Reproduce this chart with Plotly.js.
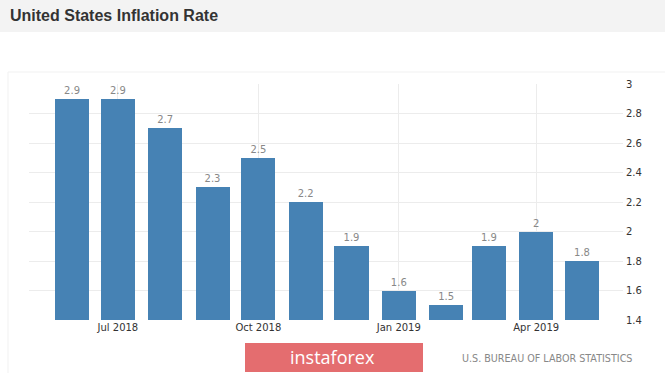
<!DOCTYPE html>
<html>
<head>
<meta charset="utf-8">
<script src="https://cdn.plot.ly/plotly-3.0.1.min.js"></script>
<style>html,body{margin:0;padding:0;background:#fff;}#chart{width:665px;height:373px;}</style>
</head>
<body>
<div id="chart"></div>
<script>
const months = ['2018-06-01','2018-07-01','2018-08-01','2018-09-01','2018-10-01','2018-11-01','2018-12-01','2019-01-01','2019-02-01','2019-03-01','2019-04-01','2019-05-01'];
const inflation = [2.9, 2.9, 2.7, 2.3, 2.5, 2.2, 1.9, 1.6, 1.5, 1.9, 2.0, 1.8];
const tickDates = ['2018-07-01','2018-10-01','2019-01-01','2019-04-01'];
const tickLabels = ['Jul 2018','Oct 2018','Jan 2019','Apr 2019'];
const yTicks = [1.4, 1.6, 1.8, 2, 2.2, 2.4, 2.6, 2.8, 3];

const W = 665, H = 373, L = 29, R = 623, T = 84, B = 320;
const px = x => (x - L) / (R - L);
const py = y => (B - y) / (B - T);
const DAY = 86400000;

const trace = {
  type: 'bar',
  x: months,
  y: inflation,
  width: months.map(() => 22.3 * DAY),
  marker: {color: '#4682B4'},
  text: inflation.map(v => String(v)),
  textposition: 'outside',
  textfont: {family: 'DejaVu Sans', size: 10, color: '#888'},
  cliponaxis: false,
  hoverinfo: 'x+y'
};

const layout = {
  width: W, height: H,
  margin: {l: L, r: W - R, t: T, b: H - B, pad: 0},
  paper_bgcolor: '#fff',
  plot_bgcolor: '#fff',
  showlegend: false,
  bargap: 0,
  title: {
    text: 'United States Inflation Rate',
    xref: 'container', yref: 'container',
    x: 10 / W, xanchor: 'left',
    y: 1 - 15 / H, yanchor: 'middle',
    font: {family: 'Liberation Sans', size: 16, color: '#333', weight: 'bold'}
  },
  xaxis: {
    type: 'date',
    range: ['2018-05-03 19:00', '2019-05-27 20:00'],
    tickvals: tickDates,
    ticktext: tickLabels,
    showgrid: true,
    gridcolor: '#ececec',
    gridwidth: 1,
    zeroline: false,
    showline: false,
    ticks: '',
    tickfont: {family: 'DejaVu Sans', size: 10, color: '#333'},
    fixedrange: true
  },
  yaxis: {
    side: 'right',
    range: [1.4, 3],
    tickvals: yTicks,
    showgrid: true,
    gridcolor: '#ececec',
    gridwidth: 1,
    zeroline: false,
    showline: false,
    ticks: '',
    ticklabelstandoff: 2,
    tickfont: {family: 'DejaVu Sans', size: 10, color: '#333'},
    fixedrange: true
  },
  shapes: [
    {type: 'rect', xref: 'paper', yref: 'paper', layer: 'below',
     x0: px(0), x1: px(W), y0: py(0), y1: py(32),
     fillcolor: '#f3f3f3', line: {width: 0}},
    {type: 'rect', xref: 'paper', yref: 'paper', layer: 'below',
     x0: px(8), x1: px(700), y0: py(72), y1: py(400),
     fillcolor: 'rgba(0,0,0,0)', line: {color: '#f1f1f1', width: 1}},
    {type: 'rect', xref: 'paper', yref: 'paper', layer: 'above',
     x0: px(245), x1: px(423), y0: py(343), y1: py(372),
     fillcolor: '#e46d6f', line: {width: 0}}
  ],
  annotations: [
    {xref: 'paper', yref: 'paper', x: px(332), y: py(357),
     xanchor: 'center', yanchor: 'middle', showarrow: false,
     text: 'instaforex',
     font: {family: 'Open Sans', size: 18, color: '#fff'}},
    {xref: 'paper', yref: 'paper', x: px(460), y: py(358),
     xanchor: 'left', yanchor: 'middle', showarrow: false,
     text: 'U.S. BUREAU OF LABOR STATISTICS',
     font: {family: 'DejaVu Sans', size: 9.6, color: '#888'}}
  ]
};

Plotly.newPlot('chart', [trace], layout, {displayModeBar: false, staticPlot: true});
</script>
</body>
</html>
